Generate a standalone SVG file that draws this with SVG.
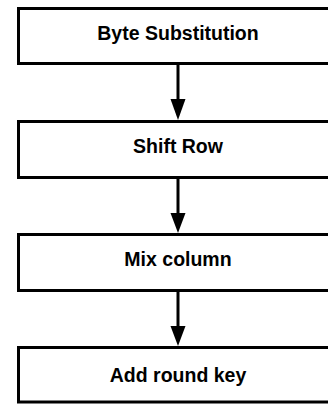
<svg xmlns="http://www.w3.org/2000/svg" width="328" height="404" viewBox="0 0 328 404">
<style>
.box{fill:#fff;stroke:#000;stroke-width:3}
.lbl{font-family:"Liberation Sans",Arial,sans-serif;font-weight:bold;font-size:19.5px;text-anchor:middle;fill:#000}
.conn{stroke:#000;stroke-width:3;fill:none}
.head{fill:#000}
</style>
<rect width="328" height="404" fill="#fff"/>
<g id="node-byte-substitution"><rect class="box" x="18.5" y="8.5" width="330" height="55"/><text class="lbl" x="178" y="40">Byte Substitution</text></g>
<g id="node-shift-row"><rect class="box" x="18.5" y="121.5" width="330" height="56"/><text class="lbl" x="178" y="153">Shift Row</text></g>
<g id="node-mix-column"><rect class="box" x="18.5" y="234.5" width="330" height="56"/><text class="lbl" x="178" y="266">Mix column</text></g>
<g id="node-add-round-key"><rect class="box" x="18.5" y="347.5" width="330" height="54.5"/><text class="lbl" x="178" y="382">Add round key</text></g>
<g id="connectors">
<line class="conn" x1="178" y1="64" x2="178" y2="102"/><polygon class="head" points="170.5,99 185.5,99 178,120"/>
<line class="conn" x1="178" y1="178" x2="178" y2="216"/><polygon class="head" points="170.5,213 185.5,213 178,233"/>
<line class="conn" x1="178" y1="291" x2="178" y2="329"/><polygon class="head" points="170.5,326 185.5,326 178,346"/>
</g>
</svg>
